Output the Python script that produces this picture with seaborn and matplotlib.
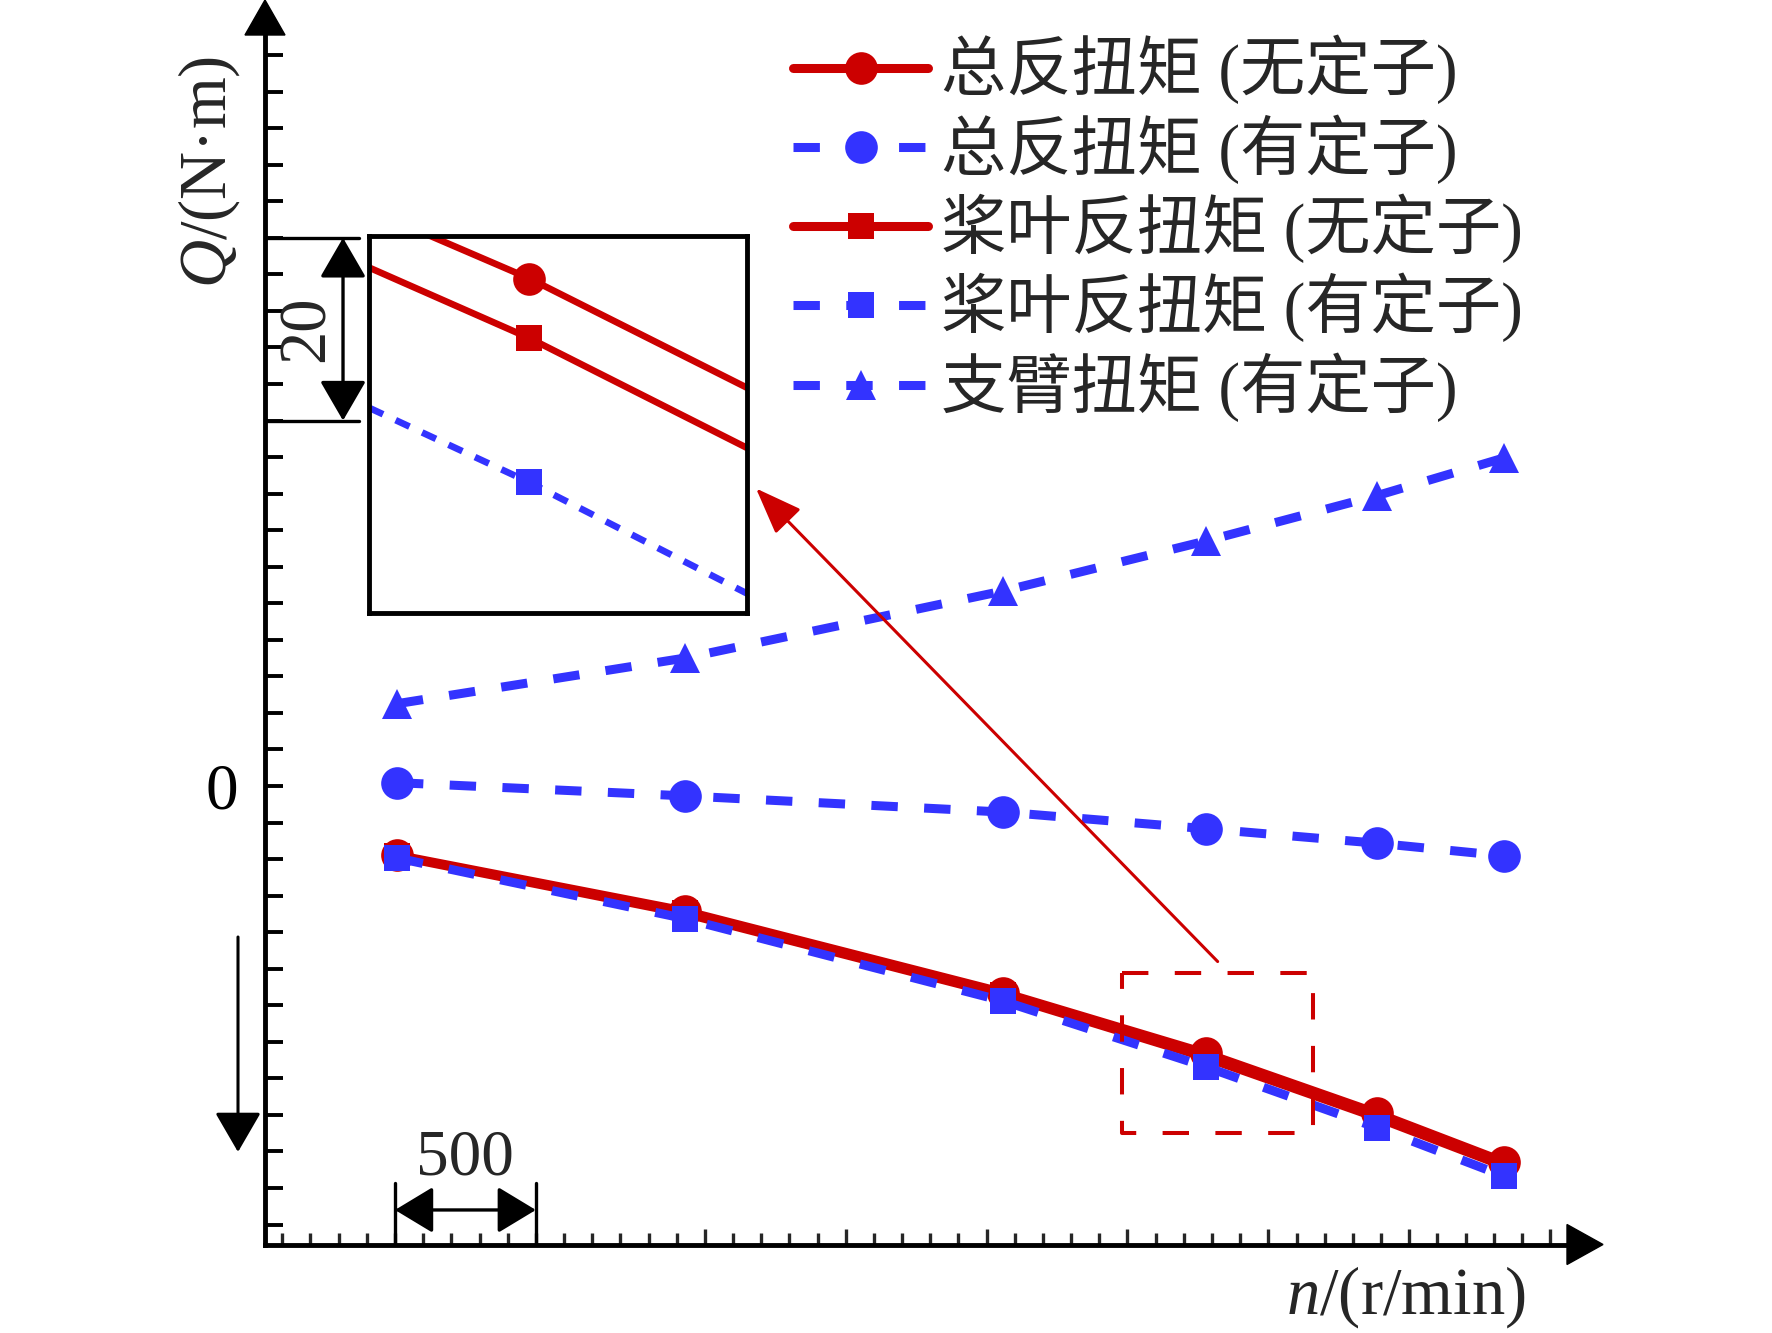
import numpy as np
import pandas as pd
import matplotlib
matplotlib.use("Agg")
import matplotlib.pyplot as plt
import seaborn as sns
from matplotlib.patches import Polygon

# ---------------- data ----------------
speed = [407, 1430, 2558, 3277, 3886, 4335]                     # n / (r/min)
total_no_stator = [-7.57, -13.70, -22.61, -29.25, -35.82, -41.12]
total_stator = [0.37, -1.08, -2.85, -4.67, -6.26, -7.63]
blade_no_stator = [-7.66, -13.94, -22.88, -29.68, -36.28, -41.57]
blade_stator = [-7.88, -14.52, -23.53, -30.72, -37.40, -42.68]
strut_stator = [9.01, 14.01, 21.34, 26.81, 31.79, 35.90]

labels = ["总反扭矩 (无定子)", "总反扭矩 (有定子)", "桨叶反扭矩 (无定子)",
          "桨叶反扭矩 (有定子)", "支臂扭矩 (有定子)"]

y_ticks = np.arange(-48, 81, 4)
y_tick_labels = ["0" if v == 0 else "" for v in y_ticks]
x_minor = np.arange(0, 4501, 100)
x_major = np.arange(1500, 4501, 500)

# annotation geometry (data units)
box_x = [2981, 3659, 3659, 2981, 2981]
box_y = [-20.5, -20.5, -38.0, -38.0, -20.5]
inset_xlim = (3223, 3350)
inset_ylim = (-31.66, -28.94)

RED = "#CC0000"
BLUE = "#3333FF"
W, H = 1772, 1333

sns.set_theme(style="white")
plt.rcParams["font.family"] = ["Liberation Serif", "Noto Sans CJK SC", "DejaVu Sans"]
plt.rcParams["mathtext.fontset"] = "custom"
plt.rcParams["mathtext.it"] = "Liberation Serif:italic"
plt.rcParams["mathtext.rm"] = "Liberation Serif"
plt.rcParams["lines.scale_dashes"] = False
plt.rcParams["axes.unicode_minus"] = False

fig = plt.figure(figsize=(W / 100, H / 100), dpi=100)
ax = fig.add_axes([265 / W, (H - 1244.5) / H, (1567 - 265) / W, (1244.5 - 35) / H])

series = [
    (total_no_stator, RED, "o", 23.5, "-"),
    (total_stator, BLUE, "o", 23.5, "dash"),
    (blade_no_stator, RED, "s", 18.5, "-"),
    (blade_stator, BLUE, "s", 18.5, "dash"),
    (strut_stator, BLUE, "^", 22, "dash"),
]
draw_order = [0, 2, 3, 1, 4]


def draw(axis, lw, dash, idx):
    vals, c, m, ms, ls = series[idx]
    style = "-" if ls == "-" else (0, dash)
    sns.lineplot(x=speed, y=vals, ax=axis, color=c, marker=m, markersize=ms,
                 linewidth=lw, linestyle=style, markeredgewidth=0,
                 markeredgecolor=c, legend=False, sort=False)
    return axis.lines[-1]


handles = {}
for i in draw_order:
    handles[i] = draw(ax, 6.5, (19, 19), i)

ax.set_xlim(-61.4, 4560)
ax.set_ylim(-50.18, 82.2)
ax.set_xlabel("")
ax.set_ylabel("")

for s in ["top", "right"]:
    ax.spines[s].set_visible(False)
for s in ["left", "bottom"]:
    ax.spines[s].set_linewidth(3.5)
    ax.spines[s].set_color("black")

ax.set_yticks(y_ticks)
ax.set_yticklabels(y_tick_labels)
ax.set_xticks(x_major)
ax.set_xticks(x_minor, minor=True)
ax.set_xticklabels([])
ax.tick_params(axis="y", direction="in", length=12.8, width=2.8, pad=19,
               labelsize=47, left=True, colors="black")
ax.tick_params(axis="x", which="major", direction="in", length=11.5, width=2.4,
               bottom=True)
ax.tick_params(axis="x", which="minor", direction="in", length=8.3, width=2.4,
               bottom=True)

# axis labels
ax.set_ylabel("$Q$/(N·m)", fontsize=48)
ax.yaxis.set_label_coords((209 - 265) / 1302, (1244.5 - 172) / 1209.5)
ax.yaxis.label.set_va("center")
ax.set_xlabel("$n$/(r/min)", fontsize=48)
ax.xaxis.set_label_coords((1406 - 265) / 1302, (1244.5 - 1297) / 1209.5)
ax.xaxis.label.set_va("center")

# axis arrowheads
fig.add_artist(Polygon([[245 / W, (H - 35) / H], [285 / W, (H - 35) / H], [265 / W, 1.0]],
                       closed=True, color="black", transform=fig.transFigure))
fig.add_artist(Polygon([[1567 / W, (H - 1224.5) / H], [1567 / W, (H - 1264.5) / H],
                        [1603 / W, (H - 1244.5) / H]],
                       closed=True, color="black", transform=fig.transFigure))

# downward arrow at left
ax.annotate("", xy=(238, H - 1152), xytext=(238, H - 937), xycoords="figure pixels",
            textcoords="figure pixels",
            arrowprops=dict(arrowstyle="-|>,head_length=2.5,head_width=1.45",
                            mutation_scale=10, color="black", lw=2.2,
                            shrinkA=0, shrinkB=0))

# "500" bracket
for xv in [400, 900]:
    ax.plot([xv, xv], [-50.18, -43.4], color="black", lw=2.4, clip_on=False)
ax.annotate("", xy=(900, -46.4), xytext=(400, -46.4),
            arrowprops=dict(arrowstyle="<|-|>,head_length=2.4,head_width=1.45",
                            mutation_scale=10, color="black", lw=2.4,
                            shrinkA=0, shrinkB=0))
ax.text(650, -40.8, "500", fontsize=47, ha="center", va="center")

# "20" bracket
for yv in [60, 40]:
    ax.plot([-61.4, 272], [yv, yv], color="black", lw=2.4, clip_on=False)
ax.annotate("", xy=(215.5, 40), xytext=(215.5, 60),
            arrowprops=dict(arrowstyle="<|-|>,head_length=2.5,head_width=1.45",
                            mutation_scale=10, color="black", lw=2.4,
                            shrinkA=0, shrinkB=0))
ax.text(89.5, 50, "20", fontsize=48, ha="center", va="center", rotation=90)

# dashed zoom box and red arrow
ax.plot(box_x, box_y, color=RED, lw=2.9, linestyle=(0, (19, 19)))
ax.annotate("", xy=(1681.5, 32.57), xytext=(3320, -19.21),
            arrowprops=dict(arrowstyle="-|>,head_length=2.9,head_width=1.1",
                            mutation_scale=10, color=RED, lw=2.2,
                            shrinkA=0, shrinkB=0))

# legend
order = [0, 1, 2, 3, 4]
leg = ax.legend([handles[i] for i in order], labels, loc="upper left",
                bbox_to_anchor=(793 / W, 1 - 35 / H), bbox_transform=fig.transFigure,
                frameon=False, fontsize=47, handlelength=2.07, handletextpad=0.2,
                labelspacing=0.15, borderpad=0, borderaxespad=0, numpoints=1)

# inset
axin = fig.add_axes([368.5 / W, (H - 612.8) / H, (747 - 368.5) / W, (612.8 - 235.5) / H])
axin.set_facecolor("white")
for i in draw_order:
    draw(axin, 4.8, (11, 10), i)
axin.set_xlim(*inset_xlim)
axin.set_ylim(*inset_ylim)
axin.set_xticks([])
axin.set_yticks([])
axin.set_xlabel("")
axin.set_ylabel("")
for s in axin.spines.values():
    s.set_visible(True)
    s.set_linewidth(3.5)
    s.set_color("black")

fig.savefig("out.png", dpi=100, facecolor="white")
